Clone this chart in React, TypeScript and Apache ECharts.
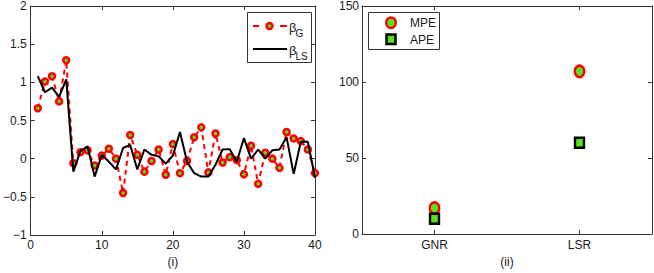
import React, { useEffect, useRef } from "react";
import * as echarts from "echarts";

const idx = [1, 2, 3, 4, 5, 6, 7, 8, 9, 10, 11, 12, 13, 14, 15, 16, 17, 18, 19, 20, 21, 22, 23, 24, 25, 26, 27, 28, 29, 30, 31, 32, 33, 34, 35, 36, 37, 38, 39, 40];
const betaG = [0.66, 1.01, 1.08, 0.75, 1.29, -0.06, 0.085, 0.11, -0.09, 0.04, 0.13, 0.0, -0.45, 0.31, 0.05, -0.17, -0.03, 0.12, -0.21, 0.19, -0.19, -0.03, 0.28, 0.41, -0.18, 0.33, -0.05, 0.02, -0.02, -0.205, 0.17, -0.33, 0.077, 0.0, -0.12, 0.35, 0.265, 0.23, 0.12, -0.19];
const betaLS = [1.08, 0.87, 0.93, 0.81, 1.04, -0.17, 0.1, 0.16, -0.235, 0.05, -0.04, -0.14, 0.14, 0.18, -0.14, 0.12, 0.05, 0.03, -0.065, 0.04, 0.35, -0.04, -0.19, -0.235, -0.235, -0.08, 0.12, 0.125, -0.04, 0.27, 0.0, 0.12, 0.0, 0.11, 0.12, 0.28, -0.2, 0.22, 0.22, -0.25];
const methods = ["GNR", "LSR"];
const mpe = [17, 107];
const ape = [10, 60];

const RED = "#ff0000";
const GREEN = "#55e020";
const AX = "#333333";
const TXT = "#1a1a1a";
const FONT = "Liberation Sans, Arial, sans-serif";

export default function App() {
  const ref = useRef<HTMLDivElement>(null);
  useEffect(() => {
    if (!ref.current) return;
    const chart = echarts.init(ref.current, null, { renderer: "svg" });
    const axLine = { show: true, onZero: false, lineStyle: { color: AX, width: 1 } };
    const tick = { show: true, inside: true, length: 4, lineStyle: { color: AX } };
    const lbl = { color: TXT, fontSize: 12, fontFamily: FONT };
    const minus = (v: number) => String(v).replace("-", "\u2212");
    chart.setOption({
      animation: false,
      backgroundColor: "#ffffff",
      textStyle: { fontFamily: FONT },
      grid: [
        { left: 27, top: 4, width: 288, height: 233 },
        { left: 362, top: 4.5, width: 290, height: 232.5 },
      ],
      xAxis: [
        {
          gridIndex: 0, type: "value", min: 0, max: 40, interval: 10, position: "bottom",
          axisLine: axLine, axisTick: tick, splitLine: { show: false },
          axisLabel: { ...lbl, margin: 4 },
          name: "(i)", nameLocation: "middle", nameGap: 21,
          nameTextStyle: { color: TXT, fontSize: 12, fontFamily: FONT },
        },
        {
          gridIndex: 0, type: "value", min: 0, max: 40, interval: 10, position: "top",
          axisLine: axLine, axisTick: tick, splitLine: { show: false }, axisLabel: { show: false },
        },
        {
          gridIndex: 1, type: "category", data: methods, boundaryGap: true, position: "bottom",
          axisLine: axLine, axisTick: { ...tick, alignWithLabel: true }, splitLine: { show: false },
          axisLabel: { ...lbl, margin: 5 },
          name: "(ii)", nameLocation: "middle", nameGap: 22,
          nameTextStyle: { color: TXT, fontSize: 12, fontFamily: FONT },
        },
        {
          gridIndex: 1, type: "category", data: methods, boundaryGap: true, position: "top",
          axisLine: axLine, axisTick: { ...tick, alignWithLabel: true }, splitLine: { show: false },
          axisLabel: { show: false },
        },
      ],
      yAxis: [
        {
          gridIndex: 0, type: "value", min: -1, max: 2, interval: 0.5, position: "left",
          axisLine: axLine, axisTick: tick, splitLine: { show: false },
          axisLabel: { ...lbl, margin: 4, formatter: minus },
        },
        {
          gridIndex: 0, type: "value", min: -1, max: 2, interval: 0.5, position: "right",
          axisLine: axLine, axisTick: tick, splitLine: { show: false }, axisLabel: { show: false },
        },
        {
          gridIndex: 1, type: "value", min: 0, max: 150, interval: 50, position: "left",
          axisLine: axLine, axisTick: tick, splitLine: { show: false },
          axisLabel: { ...lbl, margin: 3 },
        },
        {
          gridIndex: 1, type: "value", min: 0, max: 150, interval: 50, position: "right",
          axisLine: axLine, axisTick: tick, splitLine: { show: false }, axisLabel: { show: false },
        },
      ],
      series: [
        {
          name: "βG", type: "line", xAxisIndex: 0, yAxisIndex: 0,
          data: idx.map((x, i) => [x, betaG[i]]),
          symbol: "circle", symbolSize: 6, showSymbol: true,
          lineStyle: { color: RED, width: 2, type: [5, 4] },
          itemStyle: { color: GREEN, borderColor: RED, borderWidth: 2.5 },
          z: 2,
        },
        {
          name: "βLS", type: "line", xAxisIndex: 0, yAxisIndex: 0,
          data: idx.map((x, i) => [x, betaLS[i]]),
          symbol: "none",
          lineStyle: { color: "#000000", width: 2 },
          z: 3,
        },
        {
          name: "MPE", type: "scatter", xAxisIndex: 2, yAxisIndex: 2,
          data: mpe, symbol: "circle", symbolSize: [9.5, 11.5],
          itemStyle: { color: GREEN, borderColor: RED, borderWidth: 2.5, opacity: 1 },
        },
        {
          name: "APE", type: "scatter", xAxisIndex: 2, yAxisIndex: 2,
          data: ape, symbol: "rect", symbolSize: [9, 10],
          itemStyle: { color: GREEN, borderColor: "#000000", borderWidth: 2.5, opacity: 1 },
        },
      ],
      graphic: [
        // left legend
        { type: "rect", shape: { x: 247.5, y: 12.5, width: 64, height: 50 }, style: { fill: "#fff", stroke: AX, lineWidth: 1 }, z: 10 },
        { type: "line", shape: { x1: 253, y1: 26, x2: 259, y2: 26 }, style: { stroke: RED, lineWidth: 2 }, z: 11 },
        { type: "line", shape: { x1: 280, y1: 26, x2: 287, y2: 26 }, style: { stroke: RED, lineWidth: 2 }, z: 11 },
        { type: "circle", shape: { cx: 269.5, cy: 26, r: 3 }, style: { fill: GREEN, stroke: RED, lineWidth: 2.5 }, z: 11 },
        { type: "text", x: 289, y: 27, style: { text: "β", fontSize: 13, fontFamily: FONT, fill: TXT, verticalAlign: "middle" }, z: 11 },
        { type: "text", x: 295.5, y: 33, style: { text: "G", fontSize: 10, fontFamily: FONT, fill: TXT, verticalAlign: "middle" }, z: 11 },
        { type: "line", shape: { x1: 253, y1: 49, x2: 287, y2: 49 }, style: { stroke: "#000", lineWidth: 2 }, z: 11 },
        { type: "text", x: 289, y: 50, style: { text: "β", fontSize: 13, fontFamily: FONT, fill: TXT, verticalAlign: "middle" }, z: 11 },
        { type: "text", x: 295.5, y: 56, style: { text: "LS", fontSize: 10, fontFamily: FONT, fill: TXT, verticalAlign: "middle" }, z: 11 },
        // right legend
        { type: "rect", shape: { x: 368.5, y: 12.5, width: 71, height: 37 }, style: { fill: "#fff", stroke: AX, lineWidth: 1 }, z: 10 },
        { type: "ellipse", shape: { cx: 391, cy: 22.7, rx: 4.8, ry: 5.3 }, style: { fill: GREEN, stroke: RED, lineWidth: 2.5 }, z: 11 },
        { type: "text", x: 410, y: 23, style: { text: "MPE", fontSize: 12, fontFamily: FONT, fill: TXT, verticalAlign: "middle" }, z: 11 },
        { type: "rect", shape: { x: 386.5, y: 34.5, width: 9, height: 9.5 }, style: { fill: GREEN, stroke: "#000", lineWidth: 2.5 }, z: 11 },
        { type: "text", x: 410, y: 39.5, style: { text: "APE", fontSize: 12, fontFamily: FONT, fill: TXT, verticalAlign: "middle" }, z: 11 },
      ],
    });
    return () => chart.dispose();
  }, []);
  return <div ref={ref} style={{ position: "fixed", left: 0, top: 0, width: 654, height: 273 }} />;
}
